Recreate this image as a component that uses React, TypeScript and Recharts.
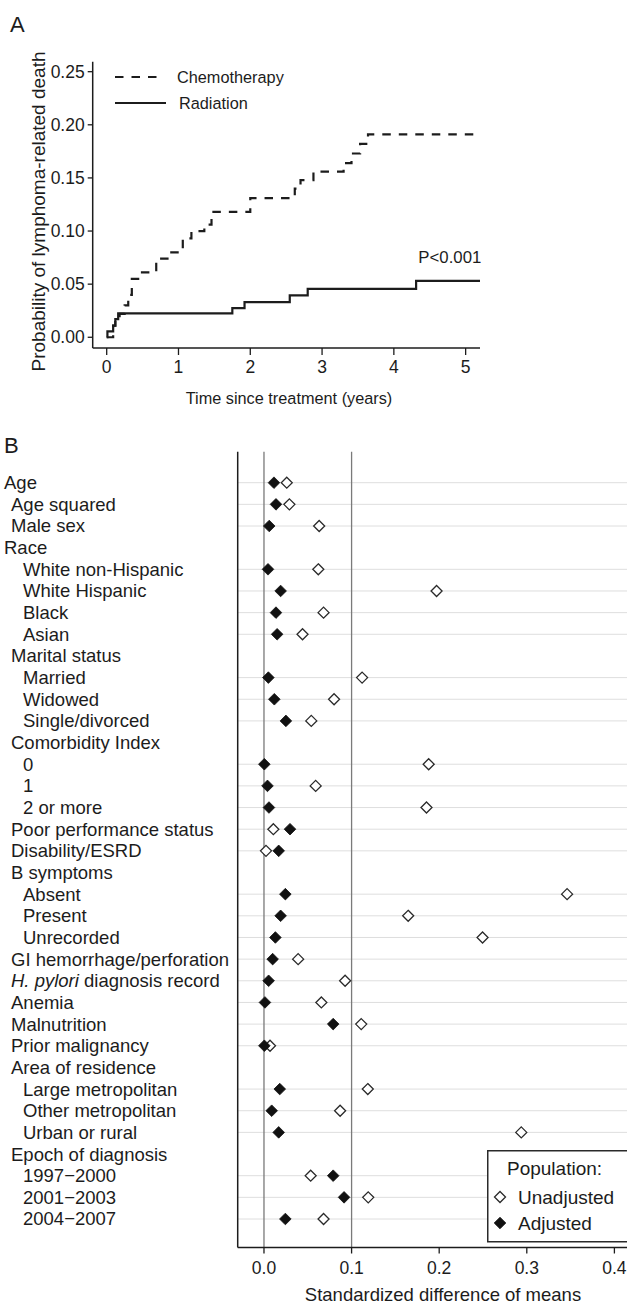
import React from 'react';
import {
  LineChart,
  Line,
  XAxis,
  YAxis,
  ScatterChart,
  Scatter,
  ReferenceLine,
  ReferenceDot,
  Legend,
  Label,
} from 'recharts';

const FONT = '"Liberation Sans", Arial, Helvetica, sans-serif';
const INK = '#1c1c1c';

// ---------- Panel A: cumulative incidence ----------
const chemoTimes = [0, 0.09, 0.12, 0.18, 0.25, 0.3, 0.35, 0.46, 0.69, 0.88, 1.06, 1.18, 1.36, 1.46, 2.0, 2.62, 2.7, 2.88, 3.3, 3.41, 3.53, 3.64, 5.2];
const chemoProb = [0, 0.011, 0.016, 0.022, 0.03, 0.04, 0.055, 0.061, 0.074, 0.08, 0.093, 0.1, 0.106, 0.118, 0.131, 0.14, 0.148, 0.156, 0.164, 0.173, 0.182, 0.191, 0.191];
const radTimes = [0, 0.01, 0.09, 0.12, 0.16, 1.75, 1.92, 2.55, 2.8, 4.31, 5.2];
const radProb = [0, 0.0055, 0.011, 0.017, 0.0225, 0.0275, 0.033, 0.0395, 0.0455, 0.053, 0.053];
const timeTicks = [0, 1, 2, 3, 4, 5];
const probTicks = [0, 0.05, 0.1, 0.15, 0.2, 0.25];
const seriesNames = ['Chemotherapy', 'Radiation'];

// ---------- Panel B: standardized differences ----------
const covariates = [
  'Age', 'Age squared', 'Male sex', 'Race', 'White non-Hispanic', 'White Hispanic', 'Black', 'Asian',
  'Marital status', 'Married', 'Widowed', 'Single/divorced', 'Comorbidity Index', '0', '1', '2 or more',
  'Poor performance status', 'Disability/ESRD', 'B symptoms', 'Absent', 'Present', 'Unrecorded',
  'GI hemorrhage/perforation', 'H. pylori diagnosis record', 'Anemia', 'Malnutrition', 'Prior malignancy',
  'Area of residence', 'Large metropolitan', 'Other metropolitan', 'Urban or rural', 'Epoch of diagnosis',
  '1997\u22122000', '2001\u22122003', '2004\u22122007',
];
const levels = [0, 1, 1, 0, 2, 2, 2, 2, 1, 2, 2, 2, 1, 2, 2, 2, 1, 1, 1, 2, 2, 2, 1, 1, 1, 1, 1, 1, 2, 2, 2, 1, 2, 2, 2];
const unadjusted = [0.026, 0.029, 0.063, null, 0.062, 0.197, 0.068, 0.044, null, 0.112, 0.08, 0.054, null, 0.188, 0.059, 0.1855, 0.0107, 0.0023, null, 0.346, 0.1646, 0.2495, 0.039, 0.0926, 0.0655, 0.111, 0.0069, null, 0.1185, 0.0869, 0.2937, null, 0.0533, 0.119, 0.068];
const adjusted = [0.0114, 0.0137, 0.006, null, 0.0046, 0.019, 0.0137, 0.015, null, 0.005, 0.0118, 0.025, null, 0.0004, 0.004, 0.0057, 0.0297, 0.0168, null, 0.0244, 0.019, 0.013, 0.0099, 0.0053, 0.0011, 0.079, 0.0004, null, 0.018, 0.0088, 0.0168, null, 0.079, 0.0914, 0.0244];
const diffTicks = [0, 0.1, 0.2, 0.3, 0.4];
const populationNames = ['Unadjusted', 'Adjusted'];

const chemoData = chemoTimes.map((t, i) => ({ t, p: chemoProb[i] }));
const radData = radTimes.map((t, i) => ({ t, p: radProb[i] }));
const rowIdx = covariates.map((_, i) => i);
const unadjData = unadjusted
  .map((v, i) => (v == null ? null : { x: v, y: i }))
  .filter(Boolean) as { x: number; y: number }[];
const adjData = adjusted
  .map((v, i) => (v == null ? null : { x: v, y: i }))
  .filter(Boolean) as { x: number; y: number }[];
const dataRows = rowIdx.filter((i) => unadjusted[i] != null || adjusted[i] != null);

const INDENT = [4, 11, 23];
const A_FS = 16.3;
const A_TICK_FS = 17.5;
const B_FS = 18.5;

const diamondPoints = (cx: number, cy: number, r: number) =>
  `${cx},${cy - r} ${cx + r},${cy} ${cx},${cy + r} ${cx - r},${cy}`;

const OpenDiamond = (props: any) => {
  const { cx, cy } = props;
  if (cx == null || cy == null) return null;
  return <polygon points={diamondPoints(cx, cy, 5.5)} fill="#fff" stroke="#2a2a2a" strokeWidth={1.3} />;
};
const FilledDiamond = (props: any) => {
  const { cx, cy } = props;
  if (cx == null || cy == null) return null;
  return <polygon points={diamondPoints(cx, cy, 5.8)} fill="#111" stroke="#111" strokeWidth={0.8} />;
};

const RowLabel = (props: any) => {
  const { y, payload } = props;
  const i = payload.value as number;
  const label = covariates[i];
  if (label == null) return null;
  const x = INDENT[levels[i]];
  const italicPrefix = 'H. pylori';
  return (
    <text x={x} y={y} dy="0.35em" textAnchor="start" fill={INK} fontSize={B_FS} fontFamily={FONT}>
      {label.startsWith(italicPrefix) ? (
        <>
          <tspan fontStyle="italic">{italicPrefix}</tspan>
          <tspan>{label.slice(italicPrefix.length)}</tspan>
        </>
      ) : (
        label
      )}
    </text>
  );
};

const LegendA = () => (
  <svg width={200} height={60} style={{ display: 'block', overflow: 'visible' }}>
    <line x1={5} x2={47} y1={15} y2={15} stroke={INK} strokeWidth={2.2} strokeDasharray="8.5 8" />
    <text x={67} y={15} dy="0.35em" fontSize={A_FS} fontFamily={FONT} fill={INK}>{seriesNames[0]}</text>
    <line x1={5} x2={56} y1={41} y2={41} stroke={INK} strokeWidth={2.2} />
    <text x={69} y={41} dy="0.35em" fontSize={A_FS} fontFamily={FONT} fill={INK}>{seriesNames[1]}</text>
  </svg>
);

const LegendB = () => (
  <svg width={220} height={93} style={{ display: 'block', overflow: 'visible' }}>
    <rect x={0.75} y={0.75} width={218} height={91} fill="#fff" stroke="#2a2a2a" strokeWidth={1.5} />
    <text x={20} y={18} dy="0.35em" fontSize={19} fontFamily={FONT} fill={INK}>Population:</text>
    <polygon points={diamondPoints(13, 47, 5.5)} fill="#fff" stroke="#2a2a2a" strokeWidth={1.3} />
    <text x={31} y={47} dy="0.35em" fontSize={19} fontFamily={FONT} fill={INK}>{populationNames[0]}</text>
    <polygon points={diamondPoints(13, 73, 5.8)} fill="#111" stroke="#111" strokeWidth={0.8} />
    <text x={31} y={73} dy="0.35em" fontSize={19} fontFamily={FONT} fill={INK}>{populationNames[1]}</text>
  </svg>
);

export default function App() {
  return (
    <div
      style={{
        position: 'absolute',
        left: 0,
        top: 0,
        width: 627,
        height: 1305,
        overflow: 'hidden',
        background: '#fff',
        fontFamily: FONT,
      }}
    >
      <div style={{ position: 'absolute', left: 0, top: 0 }}>
        <LineChart width={627} height={420} margin={{ top: 61.7, right: 147, bottom: 12, left: 12.7 }}>
          <XAxis
            type="number"
            dataKey="t"
            domain={[-0.195, 5.2]}
            allowDataOverflow
            ticks={timeTicks}
            height={60}
            tickSize={7}
            tickMargin={6}
            axisLine={{ stroke: INK, strokeWidth: 1.5 }}
            tickLine={{ stroke: INK, strokeWidth: 1.3 }}
            tick={{ fill: INK, fontSize: A_TICK_FS, fontFamily: FONT }}
          >
            <Label
              content={() => (
                <g>
                  <text x={289} y={398} dy="0.35em" textAnchor="middle" fontSize={A_FS} fontFamily={FONT} fill={INK}>
                    Time since treatment (years)
                  </text>
                  <text x={10} y={32} fontSize={22} fontFamily={FONT} fill={INK}>A</text>
                </g>
              )}
            />
          </XAxis>
          <YAxis
            type="number"
            dataKey="p"
            domain={[-0.0101, 0.2594]}
            allowDataOverflow
            ticks={probTicks}
            tickFormatter={(v: number) => v.toFixed(2)}
            width={80}
            tickSize={5}
            tickMargin={3}
            axisLine={{ stroke: INK, strokeWidth: 1.5 }}
            tickLine={{ stroke: INK, strokeWidth: 1.3 }}
            tick={{ fill: INK, fontSize: A_TICK_FS, fontFamily: FONT }}
          >
            <Label
              content={() => (
                <text
                  x={38}
                  y={211.5}
                  dy="0.35em"
                  transform="rotate(-90, 38, 211.5)"
                  textAnchor="middle"
                  fontSize={19}
                  fontFamily={FONT}
                  fill={INK}
                >
                  Probability of lymphoma-related death
                </text>
              )}
            />
          </YAxis>
          <Line
            data={chemoData}
            dataKey="p"
            name={seriesNames[0]}
            type="stepAfter"
            stroke={INK}
            strokeWidth={2.2}
            strokeDasharray="8.5 8"
            dot={false}
            isAnimationActive={false}
          />
          <Line
            data={radData}
            dataKey="p"
            name={seriesNames[1]}
            type="stepAfter"
            stroke={INK}
            strokeWidth={2.2}
            dot={false}
            isAnimationActive={false}
          />
          <ReferenceDot
            x={4.78}
            y={0.0756}
            r={1}
            fill="none"
            stroke="none"
            label={{ value: 'P<0.001', position: 'center', fill: INK, fontSize: 16.8, fontFamily: FONT }}
          />
          <Legend
            layout="vertical"
            verticalAlign="middle"
            align="center"
            content={() => <LegendA />}
            wrapperStyle={{ position: 'absolute', left: 110, top: 62, width: 200, height: 60 }}
          />
        </LineChart>
      </div>

      <div style={{ position: 'absolute', left: 0, top: 420 }}>
        <ScatterChart width={700} height={885} margin={{ top: 31.7, right: 41.8, bottom: 17.5, left: 0 }}>
          <XAxis
            type="number"
            dataKey="x"
            domain={[-0.03, 0.45]}
            allowDataOverflow
            ticks={diffTicks}
            tickFormatter={(v: number) => v.toFixed(1)}
            height={40}
            tickSize={6}
            tickMargin={8}
            axisLine={{ stroke: INK, strokeWidth: 1.5 }}
            tickLine={{ stroke: INK, strokeWidth: 1.3 }}
            tick={{ fill: INK, fontSize: 17.5, fontFamily: FONT }}
          >
            <Label
              content={() => (
                <g>
                  <text x={443} y={875} dy="0.35em" textAnchor="middle" fontSize={B_FS} fontFamily={FONT} fill={INK}>
                    Standardized difference of means
                  </text>
                  <text x={4} y={33} fontSize={22} fontFamily={FONT} fill={INK}>B</text>
                </g>
              )}
            />
          </XAxis>
          <YAxis
            type="number"
            dataKey="y"
            domain={[-1.431, 35.316]}
            reversed
            allowDataOverflow
            ticks={rowIdx}
            interval={0}
            width={237.7}
            tickLine={false}
            axisLine={{ stroke: INK, strokeWidth: 1.5 }}
            tick={(p: any) => <RowLabel {...p} />}
          />
          {dataRows.map((i) => (
            <ReferenceLine key={`row-${i}`} y={i} stroke="#dedede" strokeWidth={1} />
          ))}
          <ReferenceLine x={0} stroke="#7a7a7a" strokeWidth={1.3} />
          <ReferenceLine x={0.1} stroke="#7a7a7a" strokeWidth={1.3} />
          <Scatter name={populationNames[0]} data={unadjData} shape={OpenDiamond} isAnimationActive={false} />
          <Scatter name={populationNames[1]} data={adjData} shape={FilledDiamond} isAnimationActive={false} />
          <Legend
            layout="vertical"
            verticalAlign="middle"
            align="center"
            content={() => <LegendB />}
            wrapperStyle={{ position: 'absolute', left: 487, top: 730, width: 220, height: 93 }}
          />
        </ScatterChart>
      </div>
    </div>
  );
}
